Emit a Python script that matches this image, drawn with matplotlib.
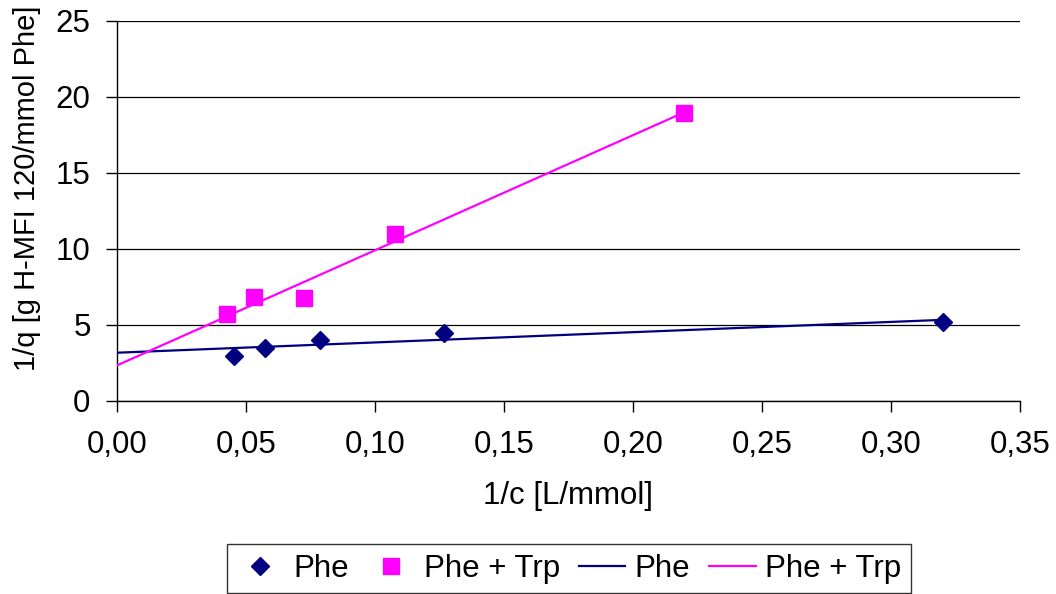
import numpy as np
import matplotlib
matplotlib.use("Agg")
import matplotlib.pyplot as plt
from matplotlib.lines import Line2D

plt.rcParams['font.family'] = ['Liberation Sans', 'DejaVu Sans']

# Data
phe_x = [0.0455, 0.0575, 0.0788, 0.1267, 0.3202]
phe_y = [2.98, 3.46, 4.03, 4.49, 5.17]
trp_x = [0.0426, 0.0530, 0.0726, 0.1077, 0.2197]
trp_y = [5.70, 6.82, 6.78, 11.00, 18.95]
series_names = ["Phe", "Phe + Trp"]
x_ticks = [0.00, 0.05, 0.10, 0.15, 0.20, 0.25, 0.30, 0.35]
y_ticks = [0, 5, 10, 15, 20, 25]

navy = '#000080'
magenta = '#FF00FF'

fig = plt.figure(figsize=(10.56, 5.94), dpi=100)
ax = fig.add_axes([117/1056, 1 - 401/594, (1020-117)/1056, (401-21)/594])

# Trend lines (least squares)
for xs, ys, c in [(phe_x, phe_y, navy), (trp_x, trp_y, magenta)]:
    k, b = np.polyfit(xs, ys, 1)
    xx = np.array([0.0, max(xs)])
    ax.plot(xx, k*xx + b, color=c, lw=1.6, zorder=3)

ax.plot(phe_x, phe_y, 'D', color=navy, ms=9, mec=navy, zorder=4, linestyle='none')
ax.plot(trp_x, trp_y, 's', color=magenta, ms=11, mec=magenta, zorder=4, linestyle='none')

ax.set_xlim(0, 0.35)
ax.set_ylim(0, 25)
ax.set_xticks(x_ticks)
ax.set_xticklabels([f"{v:.2f}".replace('.', ',') for v in x_ticks])
ax.set_yticks(y_ticks)
ax.set_yticklabels([str(v) for v in y_ticks])
ax.yaxis.grid(True, color='black', lw=0.9)
ax.set_axisbelow(True)
for s in ['top', 'right']:
    ax.spines[s].set_visible(False)
for s in ['left', 'bottom']:
    ax.spines[s].set_color('black')
    ax.spines[s].set_linewidth(1.0)
ax.tick_params(axis='both', direction='out', length=8, width=1, labelsize=22.5, color='black')
ax.tick_params(axis='x', pad=13)
ax.tick_params(axis='y', pad=11)

ax.set_xlabel("1/c [L/mmol]", fontsize=22.5)
ax.xaxis.set_label_coords(0.4995, -0.21)
ax.set_ylabel("1/q [g H-MFI 120/mmol Phe]", fontsize=21)
ax.yaxis.set_label_coords(-0.084, 0.56)

handles = [
    Line2D([], [], marker='D', color=navy, linestyle='none', ms=9),
    Line2D([], [], marker='s', color=magenta, linestyle='none', ms=11),
    Line2D([], [], color=navy, lw=1.6),
    Line2D([], [], color=magenta, lw=1.6),
]
labels = [series_names[0], series_names[1], series_names[0], series_names[1]]
leg = fig.legend(handles, labels, loc='lower center', bbox_to_anchor=(0.539, -0.025), ncol=4,
                 fontsize=22.5, frameon=True, fancybox=False, edgecolor='black',
                 handlelength=1.5, handletextpad=0.3, columnspacing=0.6, borderpad=0.3)
leg.get_frame().set_linewidth(1.0)

fig.savefig("out.png", dpi=100)
